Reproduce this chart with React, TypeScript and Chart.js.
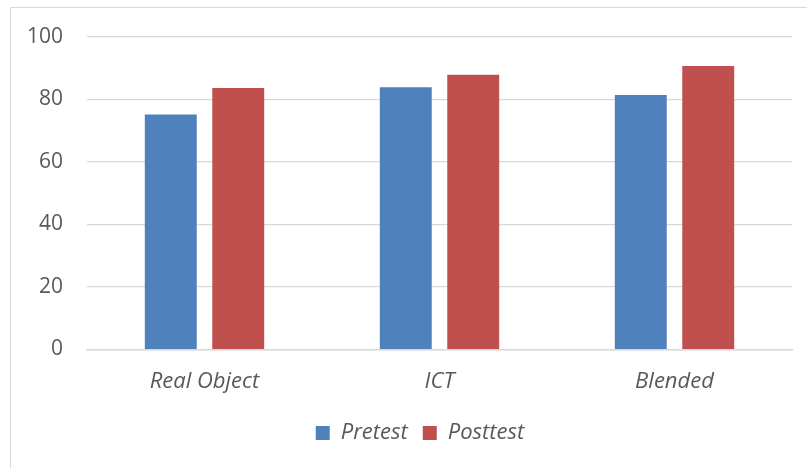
import React, { useEffect, useRef } from 'react';
import { Chart, registerables } from 'chart.js';

Chart.register(...registerables);

const categories = ['Real Object', 'ICT', 'Blended'];
const seriesNames = ['Pretest', 'Posttest'];
const pretest = [75.1, 83.8, 81.3];
const posttest = [83.6, 87.8, 90.6];
const yTickStep = 20;
const yMin = 0;
const yMax = 100;

const TEXT = '#595959';
const GRID = '#d9d9d9';
const FONT = 'Open Sans';

export default function App() {
  const ref = useRef<HTMLCanvasElement | null>(null);

  useEffect(() => {
    if (!ref.current) return;
    const frame = {
      id: 'frame',
      beforeDraw(chart: any) {
        const ctx = chart.ctx;
        ctx.save();
        ctx.strokeStyle = GRID;
        ctx.lineWidth = 1;
        ctx.beginPath();
        ctx.moveTo(10.5, chart.height);
        ctx.lineTo(10.5, 7.5);
        ctx.lineTo(chart.width, 7.5);
        ctx.stroke();
        ctx.restore();
      },
      afterLayout(chart: any) {
        const lg = chart.legend;
        if (lg) {
          lg.left += 24;
          lg.right += 24;
        }
      },
    };
    const chart = new Chart(ref.current, {
      type: 'bar',
      data: {
        labels: categories,
        datasets: [
          {
            label: seriesNames[0],
            data: pretest,
            backgroundColor: '#4f81bd',
            categoryPercentage: 0.574,
            barPercentage: 0.77,
          },
          {
            label: seriesNames[1],
            data: posttest,
            backgroundColor: '#c0504d',
            categoryPercentage: 0.574,
            barPercentage: 0.77,
          },
        ],
      },
      options: {
        animation: false,
        responsive: false,
        maintainAspectRatio: false,
        layout: { padding: { top: 36, right: 15, left: 0, bottom: 14 } },
        scales: {
          x: {
            grid: { display: false, drawTicks: false },
            border: { color: GRID, width: 1.5 },
            ticks: {
              color: TEXT,
              padding: 19,
              font: { family: FONT, size: 22, style: 'italic' },
            },
            afterFit: (s: any) => {
              s.height = 57.5;
            },
          },
          y: {
            min: yMin,
            max: yMax,
            ticks: {
              stepSize: yTickStep,
              padding: 24,
              color: TEXT,
              font: { family: FONT, size: 21 },
            },
            grid: { color: GRID, lineWidth: 1.2, drawTicks: false },
            border: { display: false },
            afterFit: (s: any) => {
              s.width = 87;
            },
          },
        },
        plugins: {
          legend: {
            position: 'bottom',
            labels: {
              boxWidth: 14,
              boxHeight: 14,
              padding: 15,
              color: TEXT,
              font: { family: FONT, size: 22, style: 'italic' },
            },
          },
          tooltip: { enabled: false },
        },
      },
      plugins: [frame],
    });
    return () => chart.destroy();
  }, []);

  return (
    <div style={{ position: 'fixed', left: 0, top: 0, width: 807, height: 468, background: '#fff' }}>
      <canvas ref={ref} width={807} height={468} style={{ display: 'block' }} />
    </div>
  );
}
